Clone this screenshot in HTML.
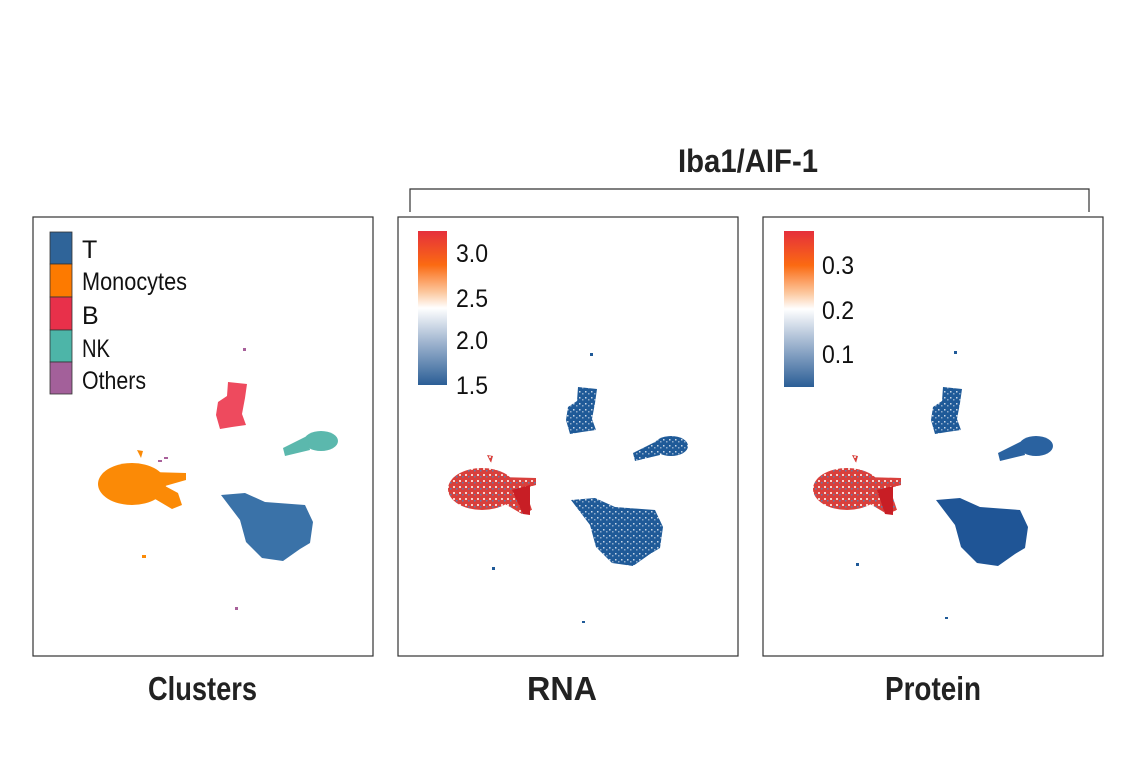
<!DOCTYPE html><html><head><style>body{margin:0;background:#fff}svg{display:block}text{font-family:"Liberation Sans",sans-serif}</style></head><body>
<svg width="1141" height="768" viewBox="0 0 1141 768">
<defs>
<linearGradient id="cb" x1="0" y1="0" x2="0" y2="1"><stop offset="0" stop-color="#e52f3c"/><stop offset="0.22" stop-color="#fb6a12"/><stop offset="0.4" stop-color="#fcc9a0"/><stop offset="0.5" stop-color="#ffffff"/><stop offset="0.7" stop-color="#a9bcd4"/><stop offset="1" stop-color="#2b5e96"/></linearGradient>
<pattern id="spk" width="6" height="6" patternUnits="userSpaceOnUse"><rect width="6" height="6" fill="#1f5a98"/><rect x="1" y="2" width="1.5" height="1.5" fill="#c8d6e6"/><rect x="4" y="4" width="1.5" height="1.5" fill="#8eaaca"/></pattern>
<pattern id="rspk" width="6" height="6" patternUnits="userSpaceOnUse"><rect width="6" height="6" fill="#d9403c"/><rect x="1" y="1" width="2" height="2" fill="#f3d4d0"/><rect x="4" y="3" width="1.5" height="1.5" fill="#5a7fb0"/></pattern>
<g id="T"><path d="M221,495 L245,493 L265,502 L305,505 L313,522 L310,543 L300,549 L283,561 L262,558 L246,542 L240,520 Z"/></g>
<g id="M"><ellipse cx="132" cy="484" rx="34" ry="21"/><path d="M150,472 L186,473 L186,480 L165,486 L178,493 L182,505 L172,509 L150,496 Z"/><path d="M137,450 L143,451 L141,458Z"/></g>
<g id="B"><path d="M228,382 L247,384 L245,398 L242,414 L246,425 L232,427 L220,429 L216,415 L218,402 L227,396 Z"/></g>
<g id="N"><ellipse cx="321" cy="441" rx="17" ry="10"/><path d="M307,436 L283,448 L285,456 L310,450Z"/></g>
</defs>
<g fill="none" stroke="#333" stroke-width="1.2"><rect x="33" y="217" width="340" height="439"/><rect x="398" y="217" width="340" height="439"/><rect x="763" y="217" width="340" height="439"/><path d="M410,212 V189 H1089 V212"/></g>
<text x="678" y="172" font-size="32" font-weight="bold" textLength="140" lengthAdjust="spacingAndGlyphs" fill="#222">Iba1/AIF-1</text>
<g font-size="33" font-weight="bold" fill="#222"><text x="148" y="700" textLength="109" lengthAdjust="spacingAndGlyphs">Clusters</text><text x="527" y="700" textLength="70" lengthAdjust="spacingAndGlyphs">RNA</text><text x="885" y="700" textLength="96" lengthAdjust="spacingAndGlyphs">Protein</text></g>
<!-- panel 1 -->
<g stroke="#333" stroke-width="0.8"><rect x="50" y="232" width="22" height="32" fill="#2f6499"/><rect x="50" y="264" width="22" height="33" fill="#fd7a00"/><rect x="50" y="297" width="22" height="33" fill="#e8304a"/><rect x="50" y="330" width="22" height="32" fill="#4db5a8"/><rect x="50" y="362" width="22" height="32" fill="#a3609a"/></g>
<g font-size="25" fill="#111"><text x="82" y="258">T</text><text x="82" y="290" textLength="105" lengthAdjust="spacingAndGlyphs">Monocytes</text><text x="82" y="324">B</text><text x="82" y="357" textLength="28" lengthAdjust="spacingAndGlyphs">NK</text><text x="82" y="389" textLength="64" lengthAdjust="spacingAndGlyphs">Others</text></g>
<use href="#T" fill="#3a72a8"/><use href="#M" fill="#fb8a06"/><use href="#B" fill="#ee4a5e"/><use href="#N" fill="#5bb8ad"/>
<g fill="#a8609a"><rect x="243" y="348" width="3" height="3"/><rect x="158" y="460" width="4" height="2"/><rect x="164" y="457" width="4" height="2"/><rect x="235" y="607" width="3" height="3"/></g><rect x="142" y="555" width="4" height="3" fill="#fb8a06"/>
<!-- panel 2 -->
<rect x="418" y="231" width="29" height="154" fill="url(#cb)"/>
<g font-size="25" fill="#111"><text x="456" y="262" textLength="32" lengthAdjust="spacingAndGlyphs">3.0</text><text x="456" y="307" textLength="32" lengthAdjust="spacingAndGlyphs">2.5</text><text x="456" y="349" textLength="32" lengthAdjust="spacingAndGlyphs">2.0</text><text x="456" y="394" textLength="32" lengthAdjust="spacingAndGlyphs">1.5</text></g>
<g transform="translate(350,5)"><use href="#T" fill="url(#spk)"/><use href="#M" fill="url(#rspk)"/><use href="#B" fill="url(#spk)"/><use href="#N" fill="url(#spk)"/></g>
<path d="M512,490 L530,485 L530,515 L523,514Z" fill="#c81e25"/>
<g fill="#1f5a98"><rect x="590" y="353" width="3" height="3"/><rect x="492" y="567" width="3" height="3"/><rect x="582" y="621" width="3" height="2"/></g>
<!-- panel 3 -->
<rect x="784" y="231" width="30" height="156" fill="url(#cb)"/>
<g font-size="25" fill="#111"><text x="822" y="274" textLength="32" lengthAdjust="spacingAndGlyphs">0.3</text><text x="822" y="319" textLength="32" lengthAdjust="spacingAndGlyphs">0.2</text><text x="822" y="363" textLength="32" lengthAdjust="spacingAndGlyphs">0.1</text></g>
<g transform="translate(715,5)"><use href="#T" fill="#1f5596"/><use href="#M" fill="url(#rspk)"/><use href="#B" fill="url(#spk)"/><use href="#N" fill="#2a62a0"/></g>
<path d="M877,490 L893,486 L893,515 L885,514Z" fill="#c81e25"/>
<g fill="#1f5a98"><rect x="954" y="351" width="3" height="3"/><rect x="856" y="563" width="3" height="3"/><rect x="945" y="617" width="3" height="2"/></g>
</svg></body></html>
